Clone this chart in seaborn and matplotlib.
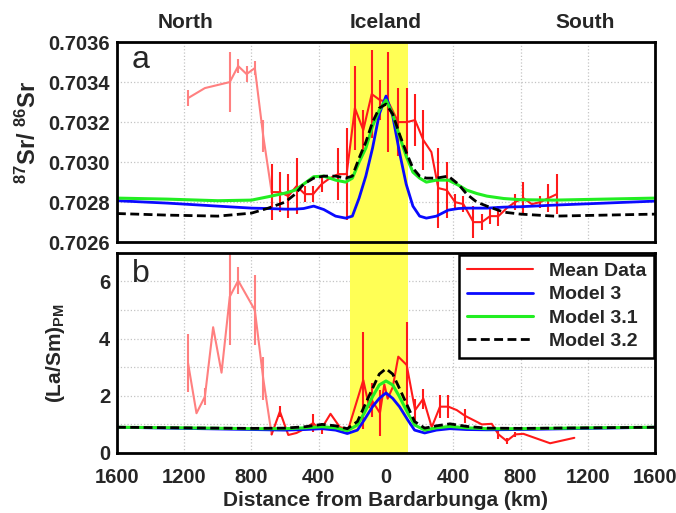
import numpy as np
import pandas as pd
import matplotlib
matplotlib.use("Agg")
import matplotlib.pyplot as plt
import matplotlib.transforms as mtransforms
from matplotlib.patches import Rectangle
import seaborn as sns

# ---------------- data (distance in km: negative = North, positive = South) -------------
# Panel a: 87Sr/86Sr
north_sr_km = [-1177, -1077, -929, -879, -829, -780, -730, -680]
north_sr = [0.70332, 0.70337, 0.70340, 0.70348, 0.70344, 0.70347, 0.70313, 0.70285]
north_sr_err = [0.00004, 0.0, 0.00015, 0.000035, 0.00004, 0.000036, 0.00008, 0.0]

mean_sr_km = [-680, -631, -581, -532, -482, -433, -383, -333, -284, -234, -185, -135, -85, -36,
              14, 73, 123, 173, 222, 270, 311, 361, 411, 460, 520, 570, 619, 669, 718, 768,
              817, 867, 917, 966, 1016]
mean_sr = [0.70285, 0.70285, 0.70283, 0.70288, 0.70284, 0.70284, 0.70289, 0.70292, 0.70294,
           0.70294, 0.70327, 0.70316, 0.70334, 0.70331, 0.70330, 0.70320, 0.70320, 0.70321,
           0.70311, 0.70305, 0.70287, 0.70286, 0.70280, 0.70279, 0.70270, 0.70270, 0.70273,
           0.70273, 0.70277, 0.70280, 0.70282, 0.70279, 0.70280, 0.70282, 0.70284]
mean_sr_err = [0.00014, 0.00010, 0.00011, 0.00014, 0.00004, 0.00004, 0.00004, 0.0, 0.00013,
               0.00023, 0.00021, 0.00010, 0.00022, 0.00010, 0.00025, 0.00017, 0.00017, 0.00013,
               0.00015, 0.0, 0.00020, 0.00014, 0.00004, 0.00004, 0.00008, 0.00004, 0.00004,
               0.00005, 0.0, 0.00004, 0.00008, 0.0, 0.00003, 0.00007, 0.00010]

model_sr_km = [-1600, -1300, -1000, -800, -700, -600, -540, -490, -430, -370, -300, -240, -200,
               -160, -120, -80, -40, 0, 40, 80, 120, 160, 200, 240, 300, 370, 430, 480, 540,
               600, 700, 800, 1000, 1300, 1600]
model3_sr = [0.702807, 0.702795, 0.70278, 0.70277, 0.702768, 0.702765, 0.702765, 0.702768,
             0.70278, 0.702763, 0.70273, 0.70272, 0.70273, 0.70282, 0.70293, 0.70307, 0.70324,
             0.70333, 0.70323, 0.70305, 0.70289, 0.70278, 0.70273, 0.70272, 0.70273, 0.70276,
             0.702768, 0.70277, 0.70277, 0.70277, 0.702775, 0.702777, 0.702785, 0.702795,
             0.702805]
model31_sr = [0.70282, 0.702815, 0.702807, 0.70281, 0.702827, 0.702845, 0.70286, 0.70289,
              0.702927, 0.70293, 0.70291, 0.70290, 0.70292, 0.70300, 0.70307, 0.70318, 0.70326,
              0.70331, 0.70324, 0.70313, 0.70303, 0.70295, 0.70292, 0.70290, 0.70291, 0.70291,
              0.702885, 0.70286, 0.702843, 0.70283, 0.702818, 0.702812, 0.70281, 0.702815,
              0.70282]
model32_sr = [0.702743, 0.702735, 0.70273, 0.702745, 0.70277, 0.70280, 0.70284, 0.70289,
              0.70292, 0.70293, 0.70293, 0.70292, 0.70293, 0.70302, 0.70310, 0.70320, 0.70327,
              0.70329, 0.70324, 0.70314, 0.70305, 0.70297, 0.70293, 0.70292, 0.70292, 0.70293,
              0.70289, 0.70284, 0.70280, 0.70278, 0.70275, 0.70274, 0.70273, 0.702735, 0.70274]

# Panel b: (La/Sm)PM
north_la_km = [-1177, -1127, -1077, -1028, -978, -929, -879, -780, -730, -680]
north_la = [3.14, 1.39, 1.97, 4.40, 2.81, 5.47, 6.03, 5.00, 2.60, 0.65]
north_la_err = [1.02, 0.0, 0.30, 0.0, 0.0, 1.70, 0.48, 1.23, 0.75, 0.0]

mean_la_km = [-680, -631, -581, -532, -482, -433, -410, -383, -330, -274, -224, -135, -100,
              -85, -36, -10, 10, 40, 73, 123, 173, 222, 272, 321, 371, 421, 470, 520, 570,
              629, 669, 718, 768, 817, 976, 1120]
mean_la = [0.65, 1.45, 0.63, 0.70, 0.85, 1.05, 0.90, 0.86, 1.37, 0.90, 0.84, 2.55, 1.60,
           1.85, 1.40, 2.40, 1.90, 2.30, 3.37, 3.08, 1.50, 1.90, 0.90, 1.62, 1.62, 1.50,
           1.30, 1.15, 1.00, 1.02, 0.65, 0.42, 0.65, 0.67, 0.34, 0.53]
mean_la_err = [0.0, 0.18, 0.0, 0.0, 0.0, 0.30, 0.0, 0.20, 0.0, 0.0, 0.0, 1.70, 0.0,
               0.60, 0.80, 0.0, 0.0, 0.0, 0.0, 1.50, 0.40, 0.35, 0.0, 0.40, 0.40, 0.0,
               0.25, 0.0, 0.0, 0.0, 0.15, 0.10, 0.10, 0.0, 0.0, 0.0]

model_la_km = [-1600, -1200, -800, -600, -480, -380, -300, -230, -170, -130, -80, -40, 0,
               40, 80, 130, 170, 230, 300, 380, 480, 600, 800, 1200, 1600]
model3_la = [0.90, 0.86, 0.82, 0.80, 0.82, 0.85, 0.80, 0.68, 0.80, 1.15, 1.62, 1.91, 2.10,
             1.91, 1.62, 1.15, 0.80, 0.70, 0.80, 0.85, 0.82, 0.81, 0.82, 0.86, 0.90]
model31_la = [0.90, 0.88, 0.85, 0.85, 0.88, 0.92, 0.88, 0.78, 0.98, 1.39, 1.97, 2.38, 2.52,
              2.38, 1.97, 1.39, 0.98, 0.80, 0.88, 0.93, 0.88, 0.85, 0.85, 0.88, 0.90]
model32_la = [0.90, 0.88, 0.86, 0.87, 0.92, 1.00, 0.95, 0.85, 1.10, 1.62, 2.26, 2.76, 2.95,
              2.76, 2.26, 1.62, 1.10, 0.87, 0.95, 1.02, 0.93, 0.87, 0.86, 0.88, 0.90]

iceland_band = (-215, 133)
x_ticks = [-1600, -1200, -800, -400, 0, 400, 800, 1200, 1600]
sr_ticks = [0.7026, 0.7028, 0.7030, 0.7032, 0.7034, 0.7036]
la_ticks = [0, 2, 4, 6]
region_names = ["North", "Iceland", "South"]
region_km = [-1190, 0, 1185]

# ---------------- style ----------------
sns.set_theme(style="white")
plt.rcParams['font.family'] = ['Liberation Sans', 'DejaVu Sans']
plt.rcParams['font.weight'] = 'bold'
plt.rcParams['mathtext.fontset'] = 'custom'
plt.rcParams['mathtext.rm'] = 'Liberation Sans:bold'
plt.rcParams['mathtext.it'] = 'Liberation Sans:bold'
plt.rcParams['mathtext.bf'] = 'Liberation Sans:bold'
plt.rcParams['mathtext.default'] = 'rm'

RED = '#ff1a1a'
PINK = '#ff8080'
BLUE = '#0a0aff'
GREEN = '#22ee22'
YELLOW = '#ffff55'
DASH = (0, (3.2, 1.6))

fig = plt.figure(figsize=(6.76, 5.13), dpi=100)
fig.patch.set_facecolor('white')
ax1 = fig.add_axes([0.173, 0.528, 0.796, 0.390])
ax2 = fig.add_axes([0.173, 0.117, 0.796, 0.390])

for ax in (ax1, ax2):
    ax.set_facecolor('white')
    ax.set_axisbelow(True)
    ax.axvspan(iceland_band[0], iceland_band[1], color=YELLOW, lw=0, zorder=1)
    ax.set_xlim(-1600, 1600)
    ax.set_xticks(x_ticks)
    ax.grid(True, which='major', ls=':', color='#c4c4c4', lw=0.9)
    for s in ax.spines.values():
        s.set_linewidth(2.0)
        s.set_color('black')
        s.set_zorder(6)
    ax.tick_params(which='major', direction='in', length=4, width=1.2, labelsize=14.5,
                   pad=5, color='#555555')
    ax.tick_params(axis='x', pad=11)

# yellow band in the gap between panels
trans = mtransforms.blended_transform_factory(ax2.transData, fig.transFigure)
fig.patches.append(Rectangle((iceland_band[0], 0.49), iceland_band[1] - iceland_band[0], 0.05,
                             transform=trans, facecolor=YELLOW, lw=0, zorder=-1))

# ---------------- panel a ----------------
ax1.errorbar(north_sr_km, north_sr, yerr=north_sr_err, fmt='none', ecolor=PINK,
             elinewidth=1.5, capsize=0, zorder=2)
sns.lineplot(x=north_sr_km, y=north_sr, ax=ax1, color=PINK, lw=1.5, estimator=None,
             sort=False, zorder=2)
ax1.errorbar(mean_sr_km, mean_sr, yerr=mean_sr_err, fmt='none', ecolor=RED,
             elinewidth=1.5, capsize=0, zorder=3)
sns.lineplot(x=mean_sr_km, y=mean_sr, ax=ax1, color=RED, lw=1.5, estimator=None,
             sort=False, zorder=3)
sns.lineplot(x=model_sr_km, y=model3_sr, ax=ax1, color=BLUE, lw=2.0, estimator=None,
             sort=False, zorder=4)
sns.lineplot(x=model_sr_km, y=model31_sr, ax=ax1, color=GREEN, lw=2.2, estimator=None,
             sort=False, zorder=4)
sns.lineplot(x=model_sr_km, y=model32_sr, ax=ax1, color='black', lw=2.0, linestyle=DASH,
             estimator=None, sort=False, zorder=5)

ax1.set_ylim(0.7026, 0.7036)
ax1.set_yticks(sr_ticks)
ax1.set_yticklabels([f"{v:.4f}" for v in sr_ticks], fontweight='bold')
ax1.tick_params(labelbottom=False)
ax1.set_ylabel(r'$^{87}$Sr/ $^{86}$Sr', fontsize=17, fontweight='bold')
ax1.yaxis.set_label_coords(-0.142, 0.55)
ax1.text(0.028, 0.87, 'a', transform=ax1.transAxes, fontsize=23, fontweight='normal',
         ha='left', va='baseline', zorder=7)
tb = mtransforms.blended_transform_factory(ax1.transData, ax1.transAxes)
for name, km in zip(region_names, region_km):
    ax1.text(km, 1.0975, name, transform=tb, ha='center', va='center', fontsize=15,
             fontweight='bold')

# ---------------- panel b ----------------
ax2.errorbar(north_la_km, north_la, yerr=north_la_err, fmt='none', ecolor=PINK,
             elinewidth=1.5, capsize=0, zorder=2)
sns.lineplot(x=north_la_km, y=north_la, ax=ax2, color=PINK, lw=1.5, estimator=None,
             sort=False, zorder=2)
ax2.errorbar(mean_la_km, mean_la, yerr=mean_la_err, fmt='none', ecolor=RED,
             elinewidth=1.5, capsize=0, zorder=3)
sns.lineplot(x=mean_la_km, y=mean_la, ax=ax2, color=RED, lw=1.5, estimator=None,
             sort=False, zorder=3, label='Mean Data')
sns.lineplot(x=model_la_km, y=model3_la, ax=ax2, color=BLUE, lw=2.0, estimator=None,
             sort=False, zorder=4, label='Model 3')
sns.lineplot(x=model_la_km, y=model31_la, ax=ax2, color=GREEN, lw=2.2, estimator=None,
             sort=False, zorder=4, label='Model 3.1')
sns.lineplot(x=model_la_km, y=model32_la, ax=ax2, color='black', lw=2.0, linestyle=DASH,
             estimator=None, sort=False, zorder=5, label='Model 3.2')

ax2.set_ylim(0, 7)
ax2.set_yticks(la_ticks)
ax2.set_yticks([1, 3, 5], minor=True)
ax2.grid(True, which='minor', axis='y', ls=':', color='#c4c4c4', lw=0.9)
ax2.tick_params(which='minor', length=0)
ax2.set_yticklabels([str(v) for v in la_ticks], fontweight='bold')
ax2.set_xticklabels([str(abs(v)) for v in x_ticks], fontweight='bold')
ax2.set_ylabel(r'(La/Sm)$_{\mathregular{PM}}$', fontsize=15, fontweight='bold')
ax2.yaxis.set_label_coords(-0.092, 0.5)
ax2.set_xlabel('Distance from Bardarbunga (km)', fontsize=15, fontweight='bold', labelpad=3)
ax2.text(0.028, 0.855, 'b', transform=ax2.transAxes, fontsize=23, fontweight='normal',
         ha='left', va='baseline', zorder=7)

handles, labels = ax2.get_legend_handles_labels()
leg = ax2.legend(handles, labels, loc='upper right', bbox_to_anchor=(0.998, 0.992),
                 borderaxespad=0.0, fancybox=False, framealpha=1, edgecolor='black',
                 prop={'weight': 'bold', 'size': 14}, handlelength=3.4,
                 handletextpad=0.8, labelspacing=0.3, borderpad=0.4)
leg.get_frame().set_linewidth(1.8)
leg.set_zorder(8)

fig.savefig('out.png', dpi=100, facecolor='white')
